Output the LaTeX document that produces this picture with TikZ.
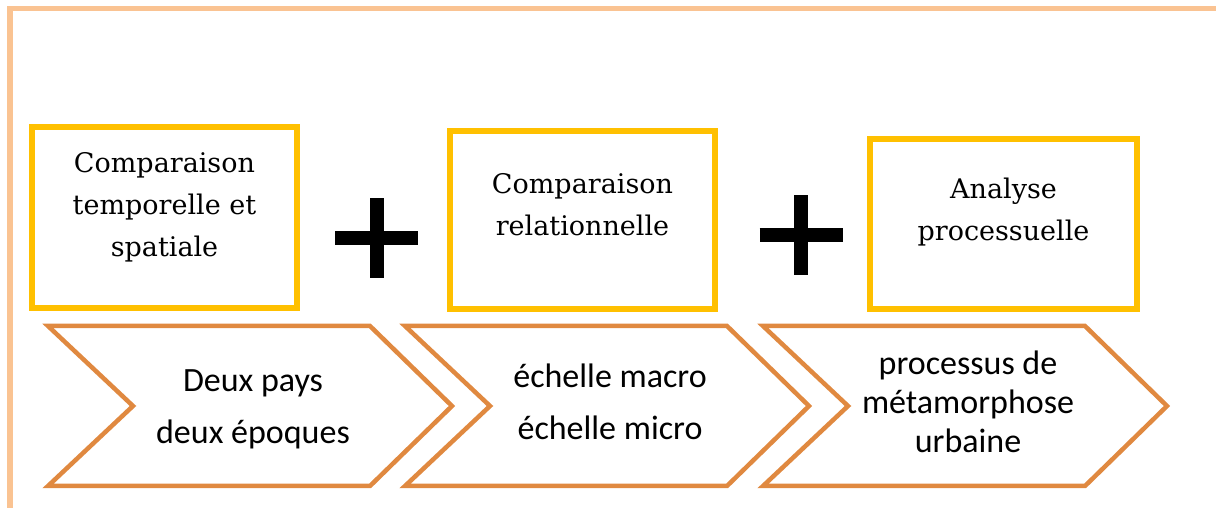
\documentclass[tikz,border=0pt]{standalone}
\usepackage{fontspec}
\newfontfamily\boxfont{DejaVu Serif}
\newfontfamily\chevfont{Carlito}
\definecolor{frameorange}{RGB}{250,195,146}
\definecolor{boxyellow}{RGB}{255,192,0}
\definecolor{chevorange}{RGB}{224,137,64}
\begin{document}
\begin{tikzpicture}
[x=1pt,y=1pt,
ybox/.style={draw=boxyellow,line width=5.5pt,inner sep=0pt},
boxtext/.style={align=center,font=\boxfont\fontsize{27}{42}\selectfont},
chevtext/.style={align=center,font=\chevfont\fontsize{34}{52}\selectfont},
chev/.style={draw=chevorange,line width=4.5pt,line join=miter},
plussign/.style={line width=14pt}]
\useasboundingbox (0,0) rectangle (1216,508);
\draw[frameorange,line width=5.5pt] (10,-5) -- (10,499.3) -- (1225,499.3);
\node[ybox,minimum width=265pt,minimum height=181pt] (b1) at (164.5,290.5) {};
\node[ybox,minimum width=265pt,minimum height=178pt] (b2) at (582.5,288) {};
\node[ybox,minimum width=267pt,minimum height=170pt] (b3) at (1003.5,284) {};
\node[boxtext] (t1) at (164.5,300.5) {Comparaison\\temporelle et\\spatiale};
\node[boxtext] (t2) at (582.5,303) {Comparaison\\relationnelle};
\node[boxtext] (t3) at (1003.5,295.5) {Analyse\\processuelle};
\coordinate (p1) at (376.5,270);
\coordinate (p2) at (801,273);
\foreach \p in {p1,p2}
\draw[plussign] ([xshift=-41.5pt]\p) -- ([xshift=41.5pt]\p) ([yshift=-40pt]\p) -- ([yshift=40pt]\p);
\foreach \x in {48,405,763}
\draw[chev] (\x,182) -- ++(322,0) -- ++(82,-80) -- ++(-82,-80) -- ++(-322,0) -- ++(85,80) -- cycle;
\node[chevtext] (c1) at (253,99) {Deux pays\\deux époques};
\node[chevtext] (c2) at (610,106) {échelle macro\\échelle micro};
\node[chevtext,font=\chevfont\fontsize{34}{39}\selectfont] (c3) at (968,106.5) {processus de\\métamorphose\\urbaine};
\end{tikzpicture}
\end{document}
